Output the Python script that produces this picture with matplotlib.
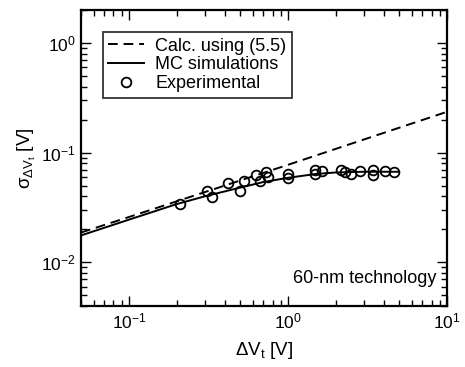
import matplotlib
import numpy as np

matplotlib.use("Agg")
import matplotlib.pyplot as plt

# dashed line: calculation using (5.5)
calc_x = [0.05, 0.1, 1.0, 10.0]
calc_y = [0.0187, 0.0259, 0.0775, 0.236]

# solid line: MC simulations
mc_x = [0.05, 0.1, 0.2, 0.3, 0.5, 0.7, 1.0, 1.5, 2.0, 3.0, 5.0]
mc_y = [0.0176, 0.0245, 0.034, 0.040, 0.048, 0.054, 0.059, 0.064, 0.066, 0.067, 0.067]

# circles: experimental
exp_x = [0.21, 0.31, 0.333, 0.42, 0.50, 0.53, 0.63, 0.67, 0.73, 0.75,
         1.0, 1.0, 1.47, 1.47, 1.63, 2.16, 2.3, 2.48, 2.83, 3.43, 3.43,
         4.07, 4.66]
exp_y = [0.0337, 0.0445, 0.0395, 0.053, 0.0445, 0.055, 0.063, 0.055, 0.066,
         0.060, 0.0645, 0.059, 0.070, 0.0645, 0.0676, 0.070, 0.066, 0.0645,
         0.0676, 0.069, 0.063, 0.0676, 0.066]

plt.rcParams["font.family"] = ["Liberation Sans", "DejaVu Sans"]
plt.rcParams["mathtext.fontset"] = "custom"
plt.rcParams["mathtext.rm"] = "Liberation Sans"
plt.rcParams["mathtext.it"] = "Liberation Sans"

fig = plt.figure(figsize=(4.65, 3.67), dpi=100)
ax = fig.add_axes([81 / 465, 1 - 306 / 367, 366 / 465, 296 / 367])

ax.plot(calc_x, calc_y, "k--", lw=1.4, dashes=(5, 3), label="Calc. using (5.5)")
ax.plot(mc_x, mc_y, "k-", lw=1.4, label="MC simulations")
ax.plot(exp_x, exp_y, "o", mfc="none", mec="k", mew=1.3, ms=7,
        label="Experimental")

ax.set_xscale("log")
ax.set_yscale("log")
ax.set_xlim(0.05, 10)
ax.set_ylim(0.004, 2)

for side in ax.spines.values():
    side.set_linewidth(1.6)
ax.tick_params(which="both", direction="in", top=True, right=True,
               labelsize=12.5, width=1.0)
ax.tick_params(which="major", length=7, pad=4)
ax.tick_params(which="minor", length=4)

ax.set_xlabel(r"$\Delta$V$_\mathrm{t}$ [V]", fontsize=13.5, labelpad=6)
ax.set_ylabel(r"$\sigma_{\Delta \mathrm{V}_\mathrm{t}}$ [V]", fontsize=13.5,
              labelpad=2)

ax.text(0.97, 0.065, "60-nm technology", transform=ax.transAxes,
        ha="right", va="bottom", fontsize=13)

leg = ax.legend(loc="upper left", bbox_to_anchor=(0.06, 0.925), fontsize=13,
                frameon=True, fancybox=False, edgecolor="k",
                handlelength=2.0, handletextpad=0.6, borderpad=0.3,
                labelspacing=0.1, borderaxespad=0)
leg.get_frame().set_linewidth(1.3)

fig.savefig("out.png", dpi=100)
